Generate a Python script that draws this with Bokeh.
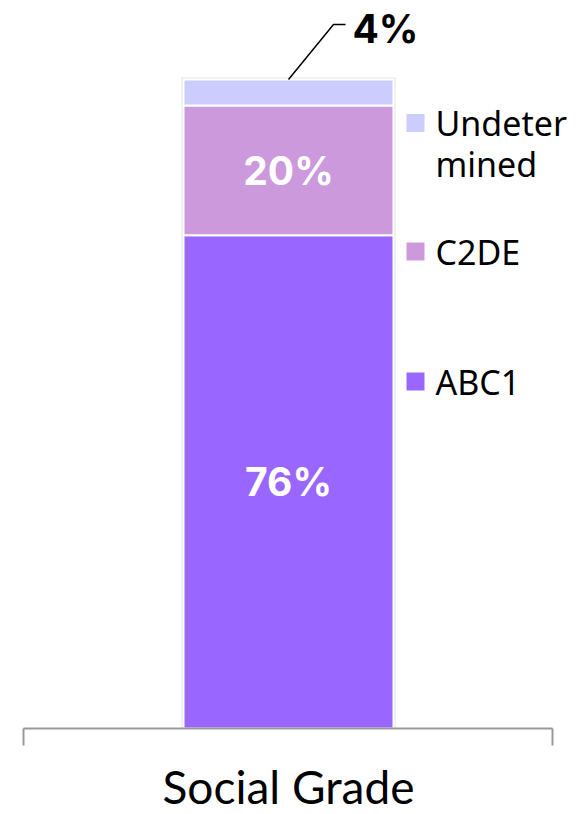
from bokeh.plotting import figure
from bokeh.models import Range1d, ColumnDataSource
from bokeh.core.properties import value
from bokeh.embed import file_html
from bokeh.resources import INLINE

# ---- data ----
category = "Social Grade"
series = ["ABC1", "C2DE", "Undetermined"]
values = [76, 20, 4]
colors = ["#9966FF", "#CC99DD", "#CCCCFF"]
legend_labels = ["Undeter\nmined", "C2DE", "ABC1"]   # top to bottom
value_labels = ["76%", "20%", "4%"]

# ---- layout (pixels) ----
W, H = 576, 814
BAR_PX = 210
Y0_PX, Y100_PX = 728, 79
ppu_y = (Y0_PX - Y100_PX) / 100.0
ppu_x = BAR_PX

def X(px):
    return (px - W / 2) / ppu_x

def Y(py):
    return (Y0_PX - py) / ppu_y

p = figure(width=W, height=H, output_backend="svg", toolbar_location=None,
           x_range=Range1d(X(0), X(W)), y_range=Range1d(Y(H), Y(0)),
           min_border=0, min_border_left=0, min_border_right=0,
           min_border_top=0, min_border_bottom=0)
p.axis.visible = False
p.grid.visible = False
p.outline_line_color = None
p.background_fill_color = "white"
p.border_fill_color = "white"

# stacked segments
bottoms, tops = [], []
acc = 0
for v in values:
    bottoms.append(acc)
    acc += v
    tops.append(acc)

# faint shadow behind bar
p.quad(left=[-(BAR_PX + 4) / 2 / ppu_x], right=[(BAR_PX + 4) / 2 / ppu_x],
       bottom=[0], top=[tops[-1] + 2 / ppu_y], fill_color="#e4e4e4", line_color=None)

src = ColumnDataSource(dict(x=[0] * len(values), bottom=bottoms, top=tops,
                            color=colors))
p.vbar(x="x", width=1, bottom="bottom", top="top", fill_color="color",
       line_color="white", line_width=2, source=src)

# value labels inside bars (first two)
mids = [(b + t) / 2 for b, t in zip(bottoms, tops)]
p.text(x=[0, 0], y=mids[:2], text=value_labels[:2], text_color="white",
       text_font=value("Inter"), text_font_style="bold", text_font_size="39px",
       text_align="center", text_baseline="middle")

# callout for small segment
p.line(x=[0, X(333), X(345)], y=[tops[-1], Y(24), Y(24)], line_color="black",
       line_width=1.5)
p.text(x=[X(352)], y=[Y(28)], text=[value_labels[2]], text_color="black",
       text_font=value("Inter"), text_font_style="bold", text_font_size="39px",
       text_align="left", text_baseline="middle")

# legend (manual)
leg_colors = colors[::-1]
leg_y = [Y(122.5), Y(251), Y(381)]
p.scatter(x=[X(415)] * 3, y=leg_y, marker="square", size=18,
          fill_color=leg_colors, line_color=None)
lx, ly, lt = [], [], []
for lab, yy in zip(legend_labels, leg_y):
    for i, line in enumerate(lab.split("\n")):
        lx.append(X(435))
        ly.append(yy - i * 41 / ppu_y)
        lt.append(line)
p.text(x=lx, y=ly, text=lt, text_color="black", text_font=value("Noto Sans"),
       text_font_size="34px", text_align="left", text_baseline="middle")

# category axis
p.line(x=[X(23), X(552)], y=[0, 0], line_color="#999999", line_width=2)
p.segment(x0=[X(23), X(552)], y0=[0, 0], x1=[X(23), X(552)], y1=[Y(745), Y(745)],
          line_color="#999999", line_width=2)
p.text(x=[0], y=[Y(786)], text=[category], text_color="black",
       text_font=value("Lato"), text_font_size="46px",
       text_align="center", text_baseline="middle")

open("out.html", "w").write(file_html(p, INLINE))
